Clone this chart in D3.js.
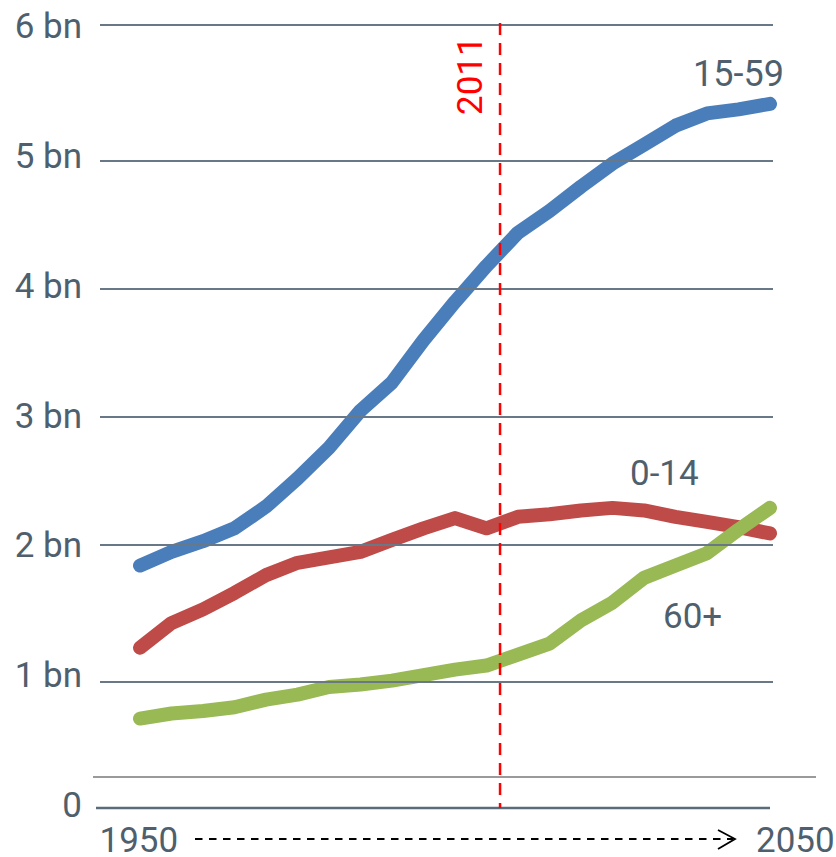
<!DOCTYPE html>
<html>
<head>
<meta charset="utf-8">
<script src="https://cdn.jsdelivr.net/npm/d3@7"></script>
<style>
html,body{margin:0;padding:0;background:#fff;}
svg{display:block;}
text{font-family:Roboto,"Noto Sans",sans-serif;font-weight:400;}
</style>
</head>
<body>
<svg id="chart" width="836" height="857"></svg>
<script>
// ---- data ----
const years = [1950,1955,1960,1965,1970,1975,1980,1985,1990,1995,2000,2005,2010,2015,2020,2025,2030,2035,2040,2045,2050];
const age15to59 = [1.85,1.95,2.03,2.13,2.30,2.52,2.76,3.05,3.27,3.60,3.90,4.18,4.44,4.61,4.80,4.98,5.12,5.26,5.35,5.38,5.42];
const age0to14  = [1.25,1.43,1.53,1.65,1.78,1.87,1.91,1.95,2.04,2.13,2.21,2.13,2.22,2.24,2.27,2.29,2.27,2.22,2.18,2.14,2.09];
const age60plus = [0.71,0.75,0.77,0.80,0.86,0.90,0.96,0.98,1.01,1.05,1.09,1.12,1.20,1.28,1.45,1.58,1.76,1.85,1.94,2.12,2.29];
const seriesNames = ["15-59","0-14","60+"];
const yTicks = [0,1,2,3,4,5,6];
const yTickLabels = ["0","1 bn","2 bn","3 bn","4 bn","5 bn","6 bn"];
const xEndLabels = ["1950","2050"];
const markerLabel = "2011";
const markerYear = 2007.15; // position of the marker on the chart's year axis

// ---- scales ----
const svg = d3.select("#chart");
const x = d3.scaleLinear().domain([1950,2050]).range([140,770]);
const y = d3.scaleLinear().domain(yTicks).range([808,682,545,417,289,161,25]);
const yLab = d3.scaleLinear().domain([0,6]).range([817,38]);

const slate = "#4f5f6d";
const gridColor = "#687886";

// separator gray line
svg.append("line")
  .attr("x1",93).attr("x2",816)
  .attr("y1",y(0)-31).attr("y2",y(0)-31)
  .attr("stroke","#9a9a9a").attr("stroke-width",2);

// series lines
const line = d3.line().x((d,i)=>x(years[i])).y(d=>y(d));
const series = [
  {name:seriesNames[0], values:age15to59, color:"#4a7ebb"},
  {name:seriesNames[1], values:age0to14, color:"#be4b48"},
  {name:seriesNames[2], values:age60plus, color:"#98b954"}
];
svg.append("g").selectAll("path").data(series).join("path")
  .attr("d",d=>line(d.values))
  .attr("fill","none")
  .attr("stroke",d=>d.color)
  .attr("stroke-width",14)
  .attr("stroke-linecap","round")
  .attr("stroke-linejoin","round");

// gridlines (drawn over the series)
svg.append("g").selectAll("line").data(yTicks.filter(t=>t>0)).join("line")
  .attr("x1",100).attr("x2",773)
  .attr("y1",d=>y(d)).attr("y2",d=>y(d))
  .attr("stroke",gridColor).attr("stroke-width",2);
svg.append("line")
  .attr("x1",96).attr("x2",770)
  .attr("y1",y(0)).attr("y2",y(0))
  .attr("stroke","#5a6b79").attr("stroke-width",2.5);

// y labels
svg.append("g").selectAll("text").data(yTicks).join("text")
  .attr("x",82).attr("y",d=>yLab(d))
  .attr("text-anchor","end")
  .attr("font-size",35)
  .attr("fill",slate)
  .text((d,i)=>yTickLabels[i]);

// marker line
svg.append("line")
  .attr("x1",x(markerYear)).attr("x2",x(markerYear))
  .attr("y1",y(6)-2).attr("y2",y(0))
  .attr("stroke","#ff0000").attr("stroke-width",2.5)
  .attr("stroke-dasharray","12,8");
svg.append("text")
  .attr("transform",`translate(${x(markerYear)-18},115) rotate(-90)`)
  .attr("font-size",35)
  .attr("fill","#ff0000")
  .text(markerLabel);

// series labels
svg.append("text").attr("x",784).attr("y",86).attr("text-anchor","end")
  .attr("font-size",36).attr("fill",slate).text(seriesNames[0]);
svg.append("text").attr("x",630).attr("y",485)
  .attr("font-size",35).attr("fill",slate).text(seriesNames[1]);
svg.append("text").attr("x",663).attr("y",628)
  .attr("font-size",35).attr("fill",slate).text(seriesNames[2]);

// x end labels
svg.append("text").attr("x",99.5).attr("y",852)
  .attr("font-size",35).attr("fill",slate).text(xEndLabels[0]);
svg.append("text").attr("x",756).attr("y",852)
  .attr("font-size",35).attr("fill",slate).text(xEndLabels[1]);

// dashed arrow
svg.append("line")
  .attr("x1",195).attr("x2",733).attr("y1",839).attr("y2",839)
  .attr("stroke","#000").attr("stroke-width",1.8)
  .attr("stroke-dasharray","7.5,6.5");
svg.append("path")
  .attr("d","M718,830 L735,839 L718,849")
  .attr("fill","none").attr("stroke","#000").attr("stroke-width",1.8);
</script>
</body>
</html>
